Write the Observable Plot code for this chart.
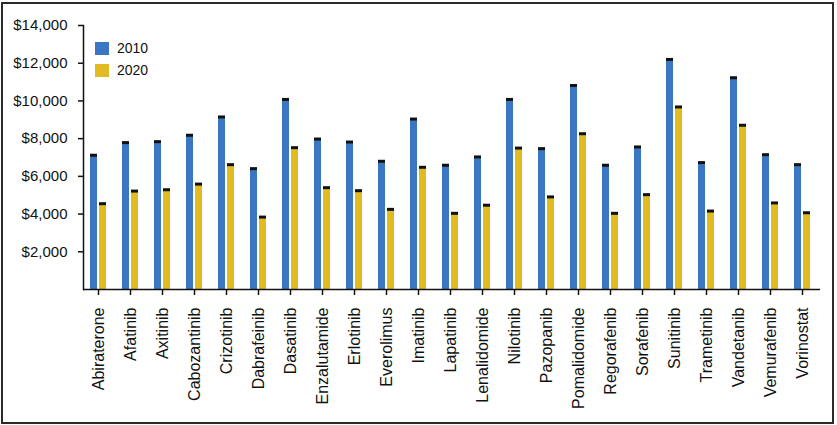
<!DOCTYPE html>
<html>
<head>
<meta charset="utf-8">
<script src="https://cdn.jsdelivr.net/npm/d3@7"></script>
<script src="https://cdn.jsdelivr.net/npm/@observablehq/plot@0.6"></script>
<style>
  html, body { margin: 0; padding: 0; background: #fff; }
  #wrap { position: relative; width: 837px; height: 425px; font-family: "Liberation Sans", Arial, sans-serif; }
  #border { position: absolute; left: 1px; top: 2px; width: 833px; height: 422px; box-sizing: border-box; border: 2px solid #2a2a2a; pointer-events: none; }
  #legend { position: absolute; left: 95px; top: 37px; font-size: 14px; color: #111; }
  .row { display: flex; align-items: center; height: 22px; }
  .sw { width: 14px; height: 13px; margin-right: 8px; }
</style>
</head>
<body>
<div id="wrap">
  <div id="chart"></div>
  <div id="legend"></div>
  <div id="border"></div>
</div>
<script>
const drugs = ["Abiraterone","Afatinib","Axitinib","Cabozantinib","Crizotinib","Dabrafeinib","Dasatinib","Enzalutamide","Erlotinib","Everolimus","Imatinib","Lapatinib","Lenalidomide","Nilotinib","Pazopanib","Pomalidomide","Regorafenib","Sorafenib","Sunitinib","Trametinib","Vandetanib","Vemurafenib","Vorinostat"];
const v2010 = [7120,7790,7840,8180,9150,6410,10080,7980,7820,6800,9040,6590,7030,10080,7470,10820,6590,7560,12200,6730,11230,7150,6620];
const v2020 = [4550,5220,5290,5590,6620,3840,7520,5400,5240,4250,6480,4040,4470,7500,4910,8260,4040,5030,9680,4160,8710,4590,4070];
const years = ["2010","2020"];
const colors = ["#3a77c0","#e0bb21"];
const yTicks = [2000,4000,6000,8000,10000,12000,14000];

const d10 = drugs.map((d,i)=>({drug:d, year:"2010", value:v2010[i]}));
const d20 = drugs.map((d,i)=>({drug:d, year:"2020", value:v2020[i]}));

const chart = Plot.plot({
  width: 837,
  height: 425,
  marginTop: 25,
  marginBottom: 136,
  marginLeft: 83,
  marginRight: 17,
  style: {fontFamily: "Liberation Sans, Arial, sans-serif", color: "#111", background: "transparent"},
  x: {domain: drugs, paddingInner: 0.5, paddingOuter: 0.25, align: 0.42, label: null},
  y: {domain: [0,14000], label: null},
  color: {domain: years, range: colors},
  marks: [
    Plot.barY(d10, {x:"drug", y:"value", fill:"year", insetRight: 9}),
    Plot.barY(d20, {x:"drug", y:"value", fill:"year", insetLeft: 9}),
    Plot.tickY(d10, {x:"drug", y:"value", stroke:"#111", strokeWidth:3, insetRight: 9}),
    Plot.tickY(d20, {x:"drug", y:"value", stroke:"#111", strokeWidth:3, insetLeft: 9}),
    Plot.frame({anchor: "left", stroke: "#111", strokeWidth: 1.5}),
    Plot.ruleY([0], {stroke: "#111", strokeWidth: 1.5}),
    Plot.axisY({ticks: yTicks, tickFormat: d => "$" + d3.format(",")(d), tickSize: 5, tickPadding: 11, fontSize: 15, strokeWidth: 1.5, label: null}),
    Plot.axisX({tickRotate: -90, tickSize: 6, tickPadding: 12, fontSize: 16, strokeWidth: 1.5, label: null})
  ]
});
document.getElementById("chart").appendChild(chart);

const legend = document.getElementById("legend");
years.forEach((y,i)=>{
  const row = document.createElement("div"); row.className = "row";
  const sw = document.createElement("div"); sw.className = "sw"; sw.style.background = colors[i];
  const t = document.createElement("span"); t.textContent = y;
  row.appendChild(sw); row.appendChild(t); legend.appendChild(row);
});
</script>
</body>
</html>
